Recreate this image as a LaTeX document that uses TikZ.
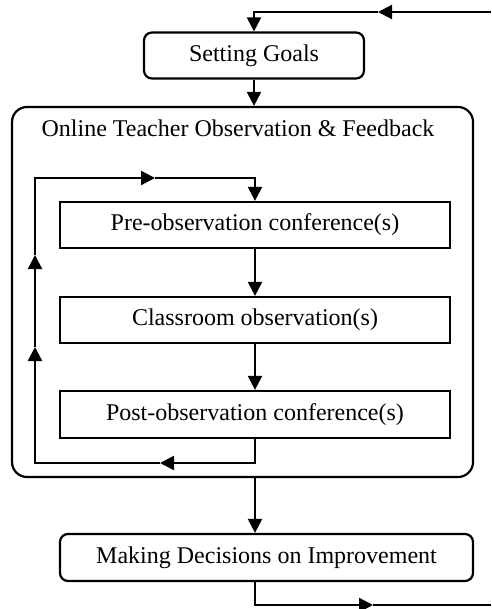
\documentclass[tikz,border=0pt]{standalone}
\usepackage{fontspec}
\setmainfont{Liberation Serif}
\usetikzlibrary{arrows.meta}
\begin{document}
\begin{tikzpicture}[x=1pt,y=-1pt, line width=2.2pt,
  >={Triangle[length=14pt,width=14pt]},
  txt/.style={font=\fontsize{24}{28}\selectfont},
  box/.style={draw, txt, minimum height=46pt, inner sep=0pt},
  rbox/.style={box, rounded corners=8pt}]
\useasboundingbox (0,0) rectangle (491,609);
% nodes
\node[rbox, minimum width=220pt] (goals) at (254,55.5) {Setting Goals};
\node[draw, rounded corners=15pt, minimum width=461pt, minimum height=370pt, inner sep=0pt] (big) at (242.5,292) {};
\node[txt, inner sep=0pt] (title) at (238,128) {Online Teacher Observation \& Feedback};
\node[box, minimum width=390pt] (pre) at (255,225) {Pre-observation conference(s)};
\node[box, minimum width=390pt] (cls) at (255,320) {Classroom observation(s)};
\node[box, minimum width=390pt, minimum height=47pt] (post) at (255,414.5) {Post-observation conference(s)};
\node[rbox, minimum width=413pt, minimum height=47pt] (dec) at (266.5,557.5) {Making Decisions on Improvement};
% free ends and arrow positions
\coordinate (in) at (491,12);
\coordinate (inA) at (378,12);
\coordinate (lbA) at (160,463);
\coordinate (lA1) at (35,347);
\coordinate (lA2) at (35,255);
\coordinate (ltA) at (155,178);
\coordinate (outA) at (373,605);
\coordinate (out) at (491,605);
% connectors
\draw[->] (in) -- (inA);
\draw[->] (inA) -| (goals.north);
\draw[->] (goals.south) -- (goals.south |- big.north);
\draw[->] (pre.south) -- (cls.north);
\draw[->] (cls.south) -- (post.north);
\draw[->] (post.south) |- (lbA);
\draw[->] (lbA) -| (lA1);
\draw[->] (lA1) -- (lA2);
\draw[->] (lA2) |- (ltA);
\draw[->] (ltA) -| (pre.north);
\draw[->] (pre.south |- big.south) -- (pre.south |- dec.north);
\draw[->] (pre.south |- dec.south) |- (outA);
\draw (outA) -- (out);
\end{tikzpicture}
\end{document}
